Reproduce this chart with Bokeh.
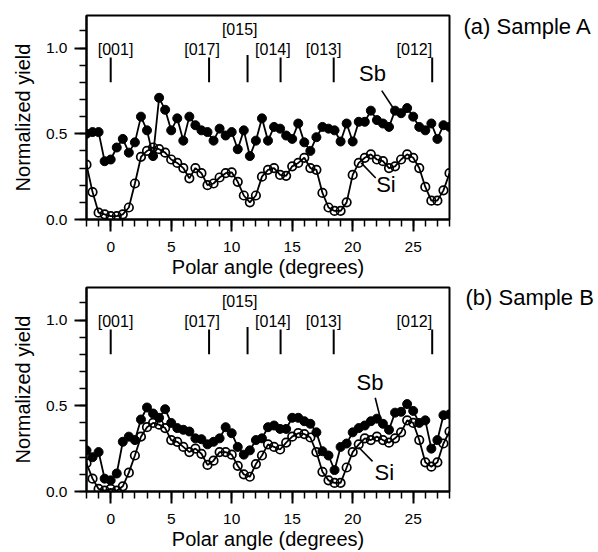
from bokeh.plotting import figure
from bokeh.layouts import column, row
from bokeh.models import Range1d, SingleIntervalTicker, PrintfTickFormatter
from bokeh.core.properties import value
from bokeh.embed import file_html
from bokeh.resources import INLINE

FONT = "Liberation Sans"

# ---------------- data ----------------
polar_angle = [-2.0, -1.5, -1.0, -0.5, 0.0, 0.5, 1.0, 1.5, 2.0, 2.5,
               3.0, 3.5, 4.0, 4.5, 5.0, 5.5, 6.0, 6.5, 7.0, 7.5,
               8.0, 8.5, 9.0, 9.5, 10.0, 10.5, 11.0, 11.5, 12.0, 12.5,
               13.0, 13.5, 14.0, 14.5, 15.0, 15.5, 16.0, 16.5, 17.0, 17.5,
               18.0, 18.5, 19.0, 19.5, 20.0, 20.5, 21.0, 21.5, 22.0, 22.5,
               23.0, 23.5, 24.0, 24.5, 25.0, 25.5, 26.0, 26.5, 27.0, 27.5, 28.0]

sb_sample_a = [0.50, 0.51, 0.51, 0.34, 0.35, 0.42, 0.47, 0.39, 0.45, 0.60,
               0.52, 0.37, 0.71, 0.64, 0.52, 0.59, 0.46, 0.60, 0.55, 0.52,
               0.51, 0.46, 0.53, 0.49, 0.51, 0.41, 0.52, 0.37, 0.46, 0.59,
               0.46, 0.54, 0.53, 0.49, 0.47, 0.56, 0.45, 0.40, 0.48, 0.54,
               0.53, 0.52, 0.455, 0.56, 0.455, 0.57, 0.57, 0.635, 0.58, 0.56,
               0.54, 0.635, 0.62, 0.65, 0.60, 0.54, 0.52, 0.56, 0.47, 0.55, 0.54]

si_sample_a = [0.32, 0.16, 0.04, 0.03, 0.02, 0.02, 0.03, 0.07, 0.21, 0.365,
               0.40, 0.42, 0.41, 0.39, 0.35, 0.33, 0.30, 0.24, 0.30, 0.27,
               0.20, 0.21, 0.245, 0.27, 0.275, 0.22, 0.14, 0.10, 0.14, 0.25,
               0.29, 0.30, 0.26, 0.255, 0.31, 0.33, 0.36, 0.30, 0.29, 0.155,
               0.07, 0.05, 0.05, 0.10, 0.26, 0.33, 0.36, 0.38, 0.35, 0.34,
               0.30, 0.31, 0.35, 0.38, 0.36, 0.30, 0.19, 0.11, 0.11, 0.17, 0.27]

sb_sample_b = [0.24, 0.20, 0.23, 0.075, 0.065, 0.105, 0.29, 0.32, 0.30, 0.42,
               0.49, 0.455, 0.43, 0.48, 0.40, 0.37, 0.36, 0.35, 0.31, 0.305,
               0.275, 0.29, 0.31, 0.375, 0.34, 0.26, 0.215, 0.24, 0.30, 0.31,
               0.375, 0.385, 0.365, 0.365, 0.43, 0.43, 0.41, 0.395, 0.345, 0.235,
               0.21, 0.125, 0.26, 0.28, 0.345, 0.37, 0.385, 0.41, 0.425, 0.395,
               0.36, 0.46, 0.465, 0.51, 0.47, 0.40, 0.415, 0.25, 0.30, 0.445, 0.45]

si_sample_b = [0.165, 0.075, 0.015, 0.005, 0.015, 0.005, 0.03, 0.11, 0.21, 0.32,
               0.375, 0.40, 0.39, 0.37, 0.30, 0.29, 0.26, 0.23, 0.25, 0.22,
               0.155, 0.18, 0.23, 0.23, 0.215, 0.15, 0.10, 0.086, 0.16, 0.21,
               0.275, 0.26, 0.245, 0.285, 0.32, 0.34, 0.335, 0.315, 0.23, 0.115,
               0.065, 0.05, 0.05, 0.14, 0.23, 0.275, 0.31, 0.30, 0.32, 0.30,
               0.285, 0.31, 0.345, 0.415, 0.40, 0.30, 0.17, 0.145, 0.17, 0.28, 0.35]

# crystal directions
dir_labels = ["[001]", "[017]", "[015]", "[014]", "[013]", "[012]"]
dir_angles = [0.0, 8.13, 11.31, 14.04, 18.43, 26.57]
dir_label_x = [0.4, 7.55, 10.66, 13.4, 17.6, 25.1]
dir_label_y = [0.99, 0.99, 1.11, 0.99, 0.99, 0.99]
dir_mark_low = [0.80, 0.80, 0.80, 0.80, 0.80, 0.80]
dir_mark_high = [0.945, 0.945, 0.96, 0.945, 0.945, 0.945]

# species labels and leader lines: [Sb, Si]
species = ["Sb", "Si"]
a_label_x = [21.64, 22.75]
a_label_y = [0.852, 0.203]
a_lead_x0 = [22.4, 21.9]
a_lead_y0 = [0.752, 0.242]
a_lead_x1 = [23.36, 20.7]
a_lead_y1 = [0.649, 0.33]

b_label_x = [21.43, 22.62]
b_label_y = [0.637, 0.11]
b_lead_x0 = [21.86, 21.64]
b_lead_y0 = [0.547, 0.176]
b_lead_x1 = [22.27, 20.49]
b_lead_y1 = [0.432, 0.258]

panel_titles = ["(a) Sample A", "(b) Sample B"]
panel_title_px_x = [12, 14]      # offset inside side strip (px)
panel_title_px_y = [26, 297]     # from top (px)


def make_panel(sb, si, lab_x, lab_y, lx0, ly0, lx1, ly1, height, top, bottom):
    p = figure(width=451, height=height,
               x_range=Range1d(-2, 28), y_range=Range1d(0, 1.19),
               output_backend="svg", toolbar_location=None,
               min_border_left=86, min_border_right=2,
               min_border_top=top, min_border_bottom=bottom)
    p.xgrid.visible = False
    p.ygrid.visible = False
    p.outline_line_color = "black"
    p.outline_line_width = 2
    p.background_fill_color = "white"

    p.xaxis.ticker = SingleIntervalTicker(interval=5, num_minor_ticks=5)
    p.yaxis.ticker = SingleIntervalTicker(interval=0.5, num_minor_ticks=5)
    p.yaxis.formatter = PrintfTickFormatter(format="%.1f")
    for ax in (p.xaxis[0], p.yaxis[0]):
        ax.axis_line_width = 2
        ax.major_tick_in = 0
        ax.major_tick_out = 12
        ax.minor_tick_in = 0
        ax.minor_tick_out = 7
        ax.major_tick_line_width = 2
        ax.minor_tick_line_width = 1.5
        ax.major_label_text_font = FONT
        ax.major_label_text_font_size = "15.5px"
        ax.major_label_text_color = "black"
        ax.axis_label_text_font = FONT
        ax.axis_label_text_font_size = "20px"
        ax.axis_label_text_font_style = "normal"
        ax.axis_label_text_color = "black"
    p.xaxis.axis_label = "Polar angle (degrees)"
    p.xaxis.major_label_standoff = 10
    p.xaxis.axis_label_standoff = 1
    p.yaxis.axis_label = "Normalized yield"
    p.yaxis.major_label_standoff = 7
    p.yaxis.axis_label_standoff = 9

    # direction markers
    p.segment(x0=dir_angles, y0=dir_mark_low, x1=dir_angles, y1=dir_mark_high,
              line_color="black", line_width=2)
    p.text(x=dir_label_x, y=dir_label_y, text=dir_labels,
           text_font=value(FONT), text_font_size=value("16px"),
           text_align="center", text_baseline="middle", text_color="black")

    # Si (open circles)
    p.line(polar_angle, si, line_color="black", line_width=1.8)
    p.scatter(polar_angle, si, marker="circle", size=8.5, fill_color=None,
              line_color="black", line_width=1.7)
    # Sb (filled circles)
    p.line(polar_angle, sb, line_color="black", line_width=1.8)
    p.scatter(polar_angle, sb, marker="circle", size=9, fill_color="black",
              line_color="black", line_width=1)

    # species labels
    p.segment(x0=lx0, y0=ly0, x1=lx1, y1=ly1, line_color="black", line_width=1.6)
    p.text(x=lab_x, y=lab_y, text=species, text_font=value(FONT),
           text_font_size=value("22px"), text_align="center",
           text_baseline="middle", text_color="black")
    return p


pa = make_panel(sb_sample_a, si_sample_a, a_label_x, a_label_y,
                a_lead_x0, a_lead_y0, a_lead_x1, a_lead_y1, 280, 15, 60)
pb = make_panel(sb_sample_b, si_sample_b, b_label_x, b_label_y,
                b_lead_x0, b_lead_y0, b_lead_x1, b_lead_y1, 272, 7, 60)

# side strip holding the panel captions
side = figure(width=147, height=552, x_range=Range1d(0, 147), y_range=Range1d(552, 0),
              output_backend="svg", toolbar_location=None,
              min_border=0, outline_line_color=None)
side.axis.visible = False
side.grid.visible = False
side.text(x=panel_title_px_x, y=panel_title_px_y, text=panel_titles,
          text_font=value(FONT), text_font_size=value("22px"),
          text_align="left", text_baseline="middle", text_color="black")

layout = row(column(pa, pb, spacing=0), side, spacing=0)
open("out.html", "w").write(file_html(layout, INLINE))
